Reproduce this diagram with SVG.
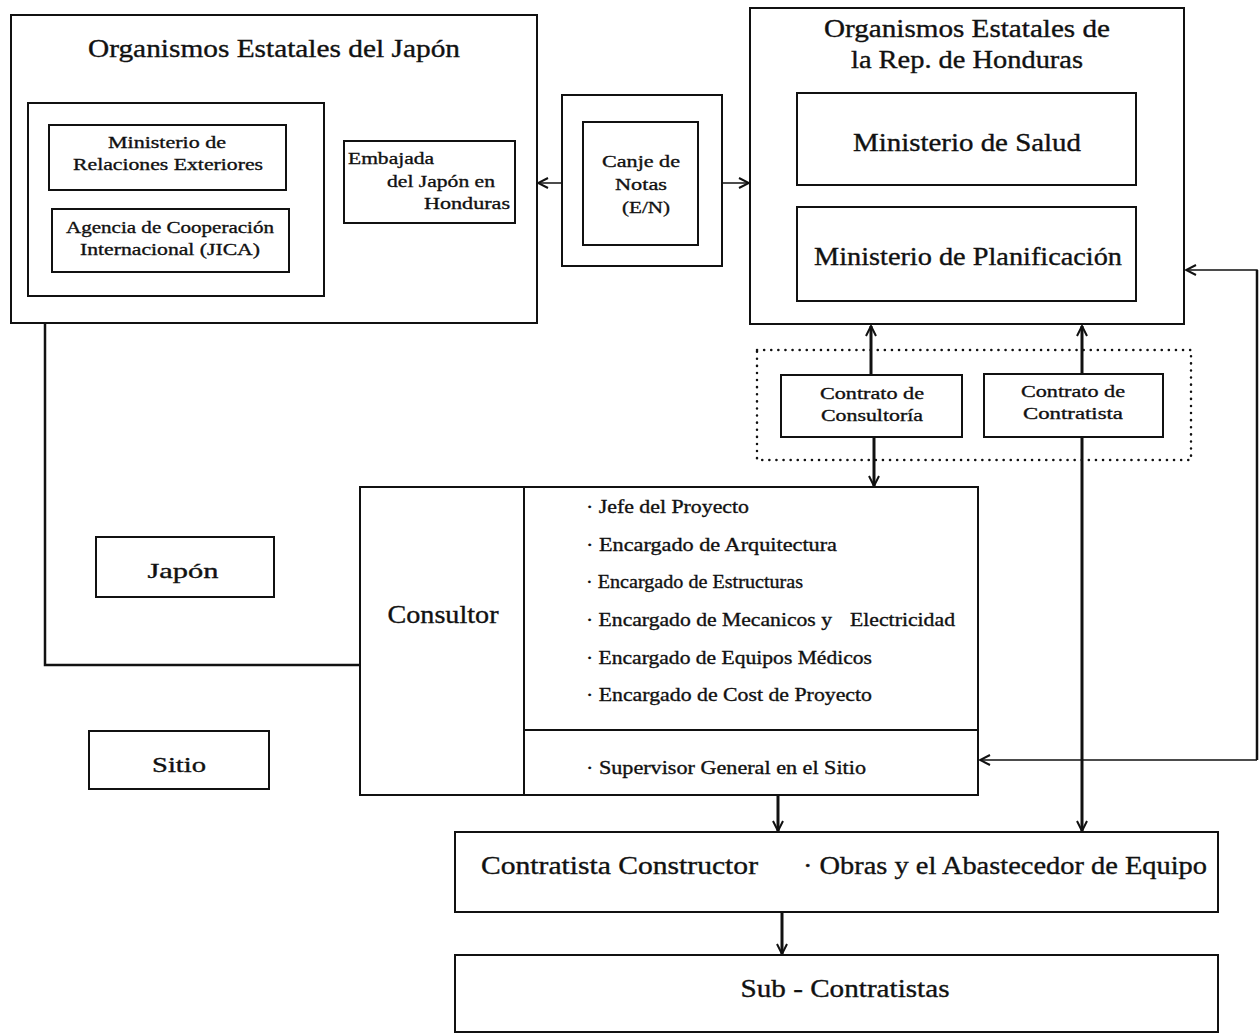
<svg xmlns="http://www.w3.org/2000/svg" width="1259" height="1035" viewBox="0 0 1259 1035">
<style>
  .box{fill:#fff;stroke:#111;stroke-width:2}
  .t{font-family:"Liberation Serif","Times New Roman",serif;fill:#111;stroke:#111;stroke-width:0.35}
  .s16{font-size:17px}
  .s18{font-size:19px}
  .s20{font-size:21px}
  .s23{font-size:25px}
  .thin{fill:none;stroke:#111;stroke-width:1.5}
  .thick{fill:none;stroke:#111;stroke-width:3}
</style>
<defs>
  <marker id="arr" viewBox="0 0 12 12" refX="11" refY="6" markerWidth="12" markerHeight="12" markerUnits="userSpaceOnUse" orient="auto">
    <path d="M1,1 L11,6 L1,11" fill="none" stroke="#111" stroke-width="2"/>
  </marker>
</defs>
<rect width="1259" height="1035" fill="#fff"/>

<g id="connectors">
  <line class="thin" x1="562" y1="183" x2="538" y2="183" marker-end="url(#arr)"/>
  <line class="thin" x1="722" y1="183" x2="749" y2="183" marker-end="url(#arr)"/>
  <line class="thick" x1="871" y1="375" x2="871" y2="326" marker-end="url(#arr)"/>
  <line class="thick" x1="874" y1="437" x2="874" y2="486" marker-end="url(#arr)"/>
  <line class="thick" x1="1082" y1="374" x2="1082" y2="326" marker-end="url(#arr)"/>
  <line class="thick" x1="1082" y1="437" x2="1082" y2="831" marker-end="url(#arr)"/>
  <polyline class="thin" points="1257,760 1257,270 1186,270" marker-end="url(#arr)"/>
  <line x1="1257" y1="270" x2="1257" y2="760" stroke="#111" stroke-width="2.5"/>
  <line class="thin" x1="1257" y1="760" x2="980" y2="760" marker-end="url(#arr)"/>
  <polyline points="45,323 45,665 360,665" fill="none" stroke="#111" stroke-width="2.5"/>
  <line class="thick" x1="778" y1="795" x2="778" y2="831" marker-end="url(#arr)"/>
  <line class="thick" x1="782" y1="912" x2="782" y2="954" marker-end="url(#arr)"/>
</g>

<g id="japan-org">
  <rect class="box" x="11" y="15" width="526" height="308"/>
  <text class="t s23" x="274" y="57" text-anchor="middle" textLength="372" lengthAdjust="spacingAndGlyphs">Organismos Estatales del Japón</text>
</g>
<g id="japan-inner">
  <rect class="box" x="28" y="103" width="296" height="193"/>
</g>
<g id="mre">
  <rect class="box" x="49" y="125" width="237" height="65"/>
  <text class="t s16" x="167" y="148" text-anchor="middle" textLength="118" lengthAdjust="spacingAndGlyphs">Ministerio de</text>
  <text class="t s16" x="168" y="170" text-anchor="middle" textLength="190" lengthAdjust="spacingAndGlyphs">Relaciones Exteriores</text>
</g>
<g id="jica">
  <rect class="box" x="52" y="209" width="237" height="63"/>
  <text class="t s16" x="170" y="233" text-anchor="middle" textLength="208" lengthAdjust="spacingAndGlyphs">Agencia de Cooperación</text>
  <text class="t s16" x="170" y="255" text-anchor="middle" textLength="180" lengthAdjust="spacingAndGlyphs">Internacional (JICA)</text>
</g>
<g id="embajada">
  <rect class="box" x="344" y="141" width="171" height="82"/>
  <text class="t s16" x="348" y="164" textLength="86" lengthAdjust="spacingAndGlyphs">Embajada</text>
  <text class="t s16" x="387" y="187" textLength="108" lengthAdjust="spacingAndGlyphs">del Japón en</text>
  <text class="t s16" x="510" y="209" text-anchor="end" textLength="86" lengthAdjust="spacingAndGlyphs">Honduras</text>
</g>
<g id="canje">
  <rect class="box" x="562" y="95" width="160" height="171"/>
  <rect class="box" x="583" y="122" width="115" height="123"/>
  <text class="t s16" x="641" y="167" text-anchor="middle" textLength="78" lengthAdjust="spacingAndGlyphs">Canje de</text>
  <text class="t s16" x="641" y="190" text-anchor="middle" textLength="52" lengthAdjust="spacingAndGlyphs">Notas</text>
  <text class="t s16" x="646" y="213" text-anchor="middle" textLength="48" lengthAdjust="spacingAndGlyphs">(E/N)</text>
</g>
<g id="honduras-org">
  <rect class="box" x="750" y="8" width="434" height="316"/>
  <text class="t s23" x="967" y="37" text-anchor="middle" textLength="286" lengthAdjust="spacingAndGlyphs">Organismos Estatales de</text>
  <text class="t s23" x="967" y="68" text-anchor="middle" textLength="232" lengthAdjust="spacingAndGlyphs">la Rep. de Honduras</text>
</g>
<g id="salud">
  <rect class="box" x="797" y="93" width="339" height="92"/>
  <text class="t s23" x="967" y="151" text-anchor="middle" textLength="228" lengthAdjust="spacingAndGlyphs">Ministerio de Salud</text>
</g>
<g id="planificacion">
  <rect class="box" x="797" y="207" width="339" height="94"/>
  <text class="t s23" x="968" y="265" text-anchor="middle" textLength="308" lengthAdjust="spacingAndGlyphs">Ministerio de Planificación</text>
</g>
<g id="contratos">
  <rect x="757" y="350" width="434" height="110" fill="none" stroke="#111" stroke-width="2.5" stroke-dasharray="0.1 7" stroke-linecap="round"/>
</g>
<g id="contrato-consultoria">
  <rect class="box" x="781" y="375" width="181" height="62"/>
  <text class="t s16" x="872" y="399" text-anchor="middle" textLength="104" lengthAdjust="spacingAndGlyphs">Contrato de</text>
  <text class="t s16" x="872" y="421" text-anchor="middle" textLength="102" lengthAdjust="spacingAndGlyphs">Consultoría</text>
</g>
<g id="contrato-contratista">
  <rect class="box" x="984" y="374" width="179" height="63"/>
  <text class="t s16" x="1073" y="397" text-anchor="middle" textLength="104" lengthAdjust="spacingAndGlyphs">Contrato de</text>
  <text class="t s16" x="1073" y="419" text-anchor="middle" textLength="100" lengthAdjust="spacingAndGlyphs">Contratista</text>
</g>
<g id="consultor">
  <rect class="box" x="360" y="487" width="618" height="308"/>
  <line x1="524" y1="487" x2="524" y2="795" stroke="#111" stroke-width="2"/>
  <line x1="524" y1="730" x2="978" y2="730" stroke="#111" stroke-width="2"/>
  <text class="t s23" x="443" y="623" text-anchor="middle" textLength="111" lengthAdjust="spacingAndGlyphs">Consultor</text>
  <text class="t s18" x="586" y="513" textLength="163" lengthAdjust="spacingAndGlyphs">· Jefe del Proyecto</text>
  <text class="t s18" x="586" y="551" textLength="251" lengthAdjust="spacingAndGlyphs">· Encargado de Arquitectura</text>
  <text class="t s18" x="586" y="588" textLength="217" lengthAdjust="spacingAndGlyphs">· Encargado de Estructuras</text>
  <text class="t s18" x="586" y="626" textLength="246" lengthAdjust="spacingAndGlyphs">· Encargado de Mecanicos y</text>
  <text class="t s18" x="850" y="626" textLength="105" lengthAdjust="spacingAndGlyphs">Electricidad</text>
  <text class="t s18" x="586" y="664" textLength="286" lengthAdjust="spacingAndGlyphs">· Encargado de Equipos Médicos</text>
  <text class="t s18" x="586" y="701" textLength="286" lengthAdjust="spacingAndGlyphs">· Encargado de Cost de Proyecto</text>
  <text class="t s18" x="586" y="774" textLength="280" lengthAdjust="spacingAndGlyphs">· Supervisor General en el Sitio</text>
</g>
<g id="japon">
  <rect class="box" x="96" y="537" width="178" height="60"/>
  <text class="t s20" x="183" y="578" text-anchor="middle" textLength="71" lengthAdjust="spacingAndGlyphs">Japón</text>
</g>
<g id="sitio">
  <rect class="box" x="89" y="731" width="180" height="58"/>
  <text class="t s20" x="179" y="772" text-anchor="middle" textLength="54" lengthAdjust="spacingAndGlyphs">Sitio</text>
</g>
<g id="constructor">
  <rect class="box" x="455" y="832" width="763" height="80"/>
  <text class="t s23" x="481" y="874" textLength="277" lengthAdjust="spacingAndGlyphs">Contratista Constructor</text>
  <text class="t s23" x="803" y="874" textLength="404" lengthAdjust="spacingAndGlyphs">· Obras y el Abastecedor de Equipo</text>
</g>
<g id="sub">
  <rect class="box" x="455" y="955" width="763" height="77"/>
  <text class="t s23" x="845" y="997" text-anchor="middle" textLength="209" lengthAdjust="spacingAndGlyphs">Sub - Contratistas</text>
</g>
</svg>
